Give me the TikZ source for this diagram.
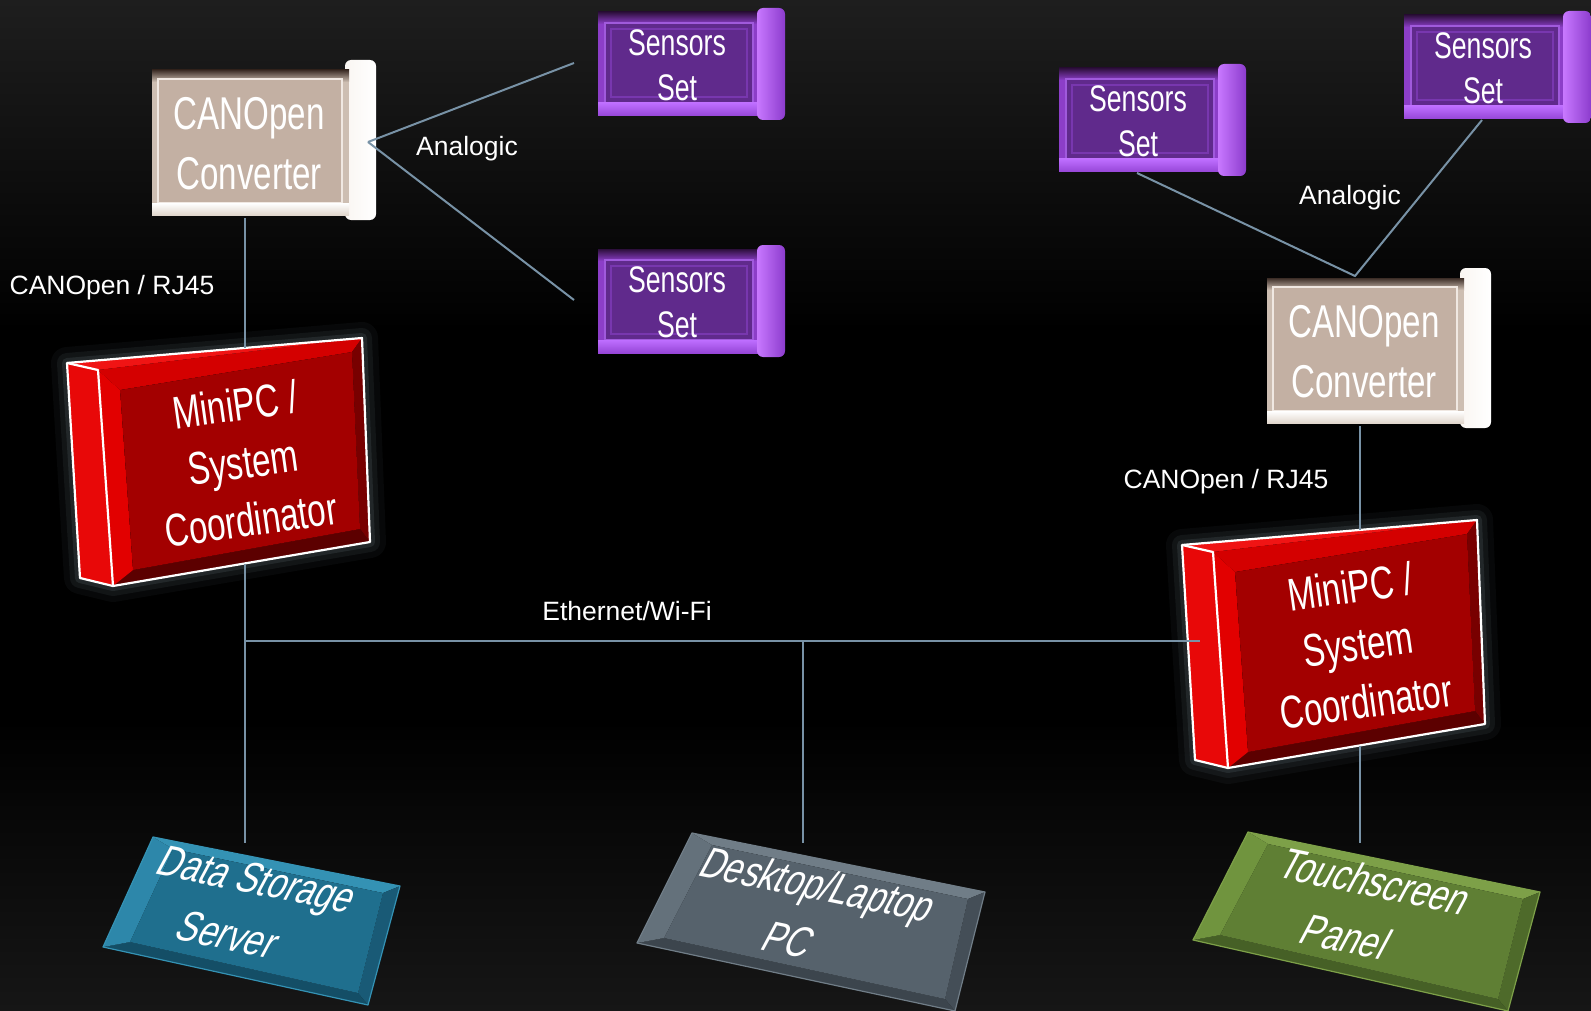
\documentclass[tikz,border=0pt]{standalone}
\usepackage{fontspec}
\setmainfont{Liberation Sans}
\newfontfamily\condfont[FakeStretch=0.72]{Liberation Sans}
\newfontfamily\condbfont[FakeStretch=0.76]{Liberation Sans}
\usetikzlibrary{calc}
% colours
\definecolor{wireC}{RGB}{120,146,166}
\definecolor{bgTop}{RGB}{30,30,30}
\definecolor{bgBot}{RGB}{22,22,22}
\definecolor{sFrame}{RGB}{140,62,200}
\definecolor{sDark}{RGB}{45,15,60}
\definecolor{sInner}{RGB}{96,42,140}
\definecolor{sLine}{RGB}{160,90,220}
\definecolor{sLineB}{RGB}{120,55,175}
\definecolor{sLip}{RGB}{190,110,255}
\definecolor{sLipDark}{RGB}{150,70,215}
\definecolor{sSlabL}{RGB}{200,120,255}
\definecolor{sSlabR}{RGB}{140,60,205}
\definecolor{cFrame}{RGB}{205,190,178}
\definecolor{cTop}{RGB}{60,45,38}
\definecolor{cInner}{RGB}{195,176,163}
\definecolor{cLine}{RGB}{240,232,226}
\definecolor{cLip}{RGB}{225,215,205}
\definecolor{cSlabL}{RGB}{250,246,242}
\definecolor{pcSide}{RGB}{232,8,8}
\definecolor{pcTop}{RGB}{240,20,20}
\definecolor{pcBevT}{RGB}{212,0,0}
\definecolor{pcBevL}{RGB}{226,0,0}
\definecolor{pcBevR}{RGB}{120,0,0}
\definecolor{pcBevB}{RGB}{92,0,0}
\definecolor{pcInner}{RGB}{163,0,0}
\definecolor{glowC}{RGB}{150,175,185}
\definecolor{dsMain}{RGB}{31,111,142}
\definecolor{dsLight}{RGB}{52,146,180}
\definecolor{dsLeft}{RGB}{45,135,170}
\definecolor{dsDark}{RGB}{25,90,118}
\definecolor{dsDarker}{RGB}{20,78,102}
\definecolor{dtMain}{RGB}{86,98,108}
\definecolor{dtLight}{RGB}{112,125,135}
\definecolor{dtLeft}{RGB}{100,113,123}
\definecolor{dtDark}{RGB}{68,78,87}
\definecolor{dtDarker}{RGB}{60,69,77}
\definecolor{tsMain}{RGB}{95,127,52}
\definecolor{tsLight}{RGB}{125,160,72}
\definecolor{tsLeft}{RGB}{112,148,62}
\definecolor{tsDark}{RGB}{78,106,42}
\definecolor{tsDarker}{RGB}{70,96,38}

\tikzset{
  wire/.style={draw=wireC, line width=1pt},
  lbl/.style={text=white, inner sep=0pt, font=\fontsize{13.25}{16}\selectfont},
  convtext/.style={text=white, align=center, inner sep=0pt, font=\condfont\fontsize{23}{30}\selectfont},
  sensortext/.style={text=white, align=center, inner sep=0pt, font=\condfont\fontsize{18.5}{22.5}\selectfont},
  pctext/.style={text=white, align=center, inner sep=0pt, rotate=8, font=\condfont\fontsize{23}{29}\selectfont},
  bottext/.style={text=white, align=center, inner sep=0pt, rotate=-11.5, xslant=0.3, font=\condbfont\fontsize{22}{30}\selectfont},
  pcedge/.style={draw=white, line width=1.1pt, line join=round},
}

% Sensors Set box: name, x, y (top-left of the frame)
\newcommand{\sensorbox}[3]{%
\begin{scope}[shift={(#2,#3)}]
  \fill[sFrame] (0,4) rectangle (162,107);
  \shade[top color=sDark, bottom color=sFrame] (0,4) rectangle (162,16);
  \fill[sInner, draw=sLine, line width=0.8pt] (7,15) rectangle (155,95);
  \draw[sLineB, line width=0.6pt] (13,21) rectangle (149,89);
  \shade[top color=sLip, bottom color=sLipDark] (0,95) rectangle (162,108);
  \shade[left color=sSlabL, right color=sSlabR, rounded corners=3pt] (159,0) rectangle (187,112);
  \node[sensortext] (#1) at (79,57) {Sensors\\Set};
  \coordinate (#1-w) at (-24,55);
  \coordinate (#1-b) at (78,109);
\end{scope}}

% CANOpen Converter box: name, x, y
\newcommand{\convbox}[3]{%
\begin{scope}[shift={(#2,#3)}]
  \shade[left color=cSlabL, right color=white, rounded corners=3pt] (193,0) rectangle (224,160);
  \fill[cFrame] (0,10) rectangle (197,155);
  \shade[top color=cTop, bottom color=cFrame] (0,10) rectangle (197,22);
  \fill[cInner, draw=cLine, line width=0.8pt] (6,19) rectangle (190,143);
  \shade[top color=white, bottom color=cLip] (0,143) rectangle (197,155);
  \node[convtext] (#1) at (97,84) {CANOpen\\Converter};
  \coordinate (#1-s) at (93,158);
  \coordinate (#1-e) at (216,82);
  \coordinate (#1-n) at (88,8);
\end{scope}}

% MiniPC box: name, shift x, shift y
\newcommand{\minipcbox}[3]{%
\begin{scope}[shift={(#2,#3)}]
  \foreach \w/\o in {16/0.05,10/0.08,5/0.12}{
    \draw[glowC, opacity=\o, line width=\w pt, line join=round]
      (67,363) -- (362,338) -- (370,542) -- (113,586) -- (80,578) -- cycle;}
  \fill[pcSide] (67,363) -- (98,370) -- (113,586) -- (80,578) -- cycle;
  \fill[pcTop] (67,363) -- (362,338) -- (98,370) -- cycle;
  \fill[pcBevT] (98,370) -- (362,338) -- (352,352) -- (120,390) -- cycle;
  \fill[pcBevR] (362,338) -- (370,542) -- (360,529) -- (352,352) -- cycle;
  \fill[pcBevB] (370,542) -- (113,586) -- (133,570) -- (360,529) -- cycle;
  \fill[pcBevL] (113,586) -- (98,370) -- (120,390) -- (133,570) -- cycle;
  \fill[pcInner] (120,390) -- (352,352) -- (360,529) -- (133,570) -- cycle;
  \draw[pcedge] (67,363) -- (362,338) -- (370,542) -- (113,586) -- (80,578) -- cycle;
  \draw[pcedge] (67,363) -- (98,370) -- (113,586);
  \node[pctext] (#1) at (243,462) {MiniPC /\\System\\Coordinator};
  \coordinate (#1-n) at (245,348);
  \coordinate (#1-s) at (245,564);
  \coordinate (#1-w) at (85,459);
\end{scope}}

% Bevelled slab: name, TL, TR, BR, BL, colour prefix
\newcommand{\bevelbox}[6]{%
  \coordinate (#1TL) at #2;
  \coordinate (#1TR) at #3;
  \coordinate (#1BR) at #4;
  \coordinate (#1BL) at #5;
  \coordinate (#1tl) at ($(#1TL)+(20,12)$);
  \coordinate (#1tr) at ($(#1TR)+(-17,7)$);
  \coordinate (#1br) at ($(#1BR)+(-10,-12)$);
  \coordinate (#1bl) at ($(#1BL)+(27,-5)$);
  \fill[#6Light] (#1TL) -- (#1TR) -- (#1tr) -- (#1tl) -- cycle;
  \fill[#6Dark] (#1TR) -- (#1BR) -- (#1br) -- (#1tr) -- cycle;
  \fill[#6Darker] (#1BR) -- (#1BL) -- (#1bl) -- (#1br) -- cycle;
  \fill[#6Left] (#1BL) -- (#1TL) -- (#1tl) -- (#1bl) -- cycle;
  \fill[#6Main] (#1tl) -- (#1tr) -- (#1br) -- (#1bl) -- cycle;
  \draw[#6Light, line width=0.6pt, line join=round] (#1TL) -- (#1TR) -- (#1BR) -- (#1BL) -- cycle;
}

\begin{document}
\begin{tikzpicture}[x=0.5pt,y=-0.5pt]
  % background
  \useasboundingbox (0,0) rectangle (1591,1011);
  \fill[black] (0,0) rectangle (1591,1011);
  \shade[top color=bgTop, bottom color=black] (0,0) rectangle (1591,330);
  \shade[top color=black, bottom color=bgBot] (0,720) rectangle (1591,1011);

  % boxes
  \convbox{convL}{152}{60}
  \convbox{convR}{1267}{268}
  \sensorbox{sensA}{598}{8}
  \sensorbox{sensB}{598}{245}
  \sensorbox{sensC}{1059}{64}
  \sensorbox{sensD}{1404}{11}
  \minipcbox{pcL}{0}{0}
  \minipcbox{pcR}{1115}{182}

  \bevelbox{dsb}{(153,837)}{(400,886)}{(368,1005)}{(103,947)}{ds}
  \bevelbox{dtb}{(692,833)}{(985,892)}{(955,1011)}{(637,943)}{dt}
  \bevelbox{tsb}{(1248,832)}{(1540,892)}{(1508,1011)}{(1193,940)}{ts}
  \node[bottext] (dss) at (243,907) {Data Storage\\Server};
  \node[bottext] (desk) at (804,912) {Desktop/Laptop\\PC};
  \node[bottext] (touch) at (1361,909) {Touchscreen\\Panel};
  \coordinate (dss-n) at (245,843);
  \coordinate (desk-n) at (803,843);
  \coordinate (touch-n) at (1360,843);

  % connectors
  \draw[wire] (convL-s) -- (pcL-n);
  \draw[wire] (convL-e) -- (sensA-w);
  \draw[wire] (convL-e) -- (sensB-w);
  \draw[wire] (sensC-b) -- (convR-n) -- (sensD-b);
  \draw[wire] (convR-s) -- (pcR-n);
  \draw[wire] (pcL-s) -- (dss-n);
  \draw[wire] (pcL-s |- pcR-w) -- (pcR-w);
  \draw[wire] (desk-n |- pcR-w) -- (desk-n);
  \draw[wire] (pcR-s) -- (touch-n);

  % labels
  \node[lbl] (anL) at (467,149) {Analogic};
  \node[lbl] (anR) at (1350,198) {Analogic};
  \node[lbl] (rjL) at (112,288) {CANOpen / RJ45};
  \node[lbl] (rjR) at (1226,482) {CANOpen / RJ45};
  \node[lbl] (eth) at (627,611) {Ethernet/Wi-Fi};
\end{tikzpicture}
\end{document}
